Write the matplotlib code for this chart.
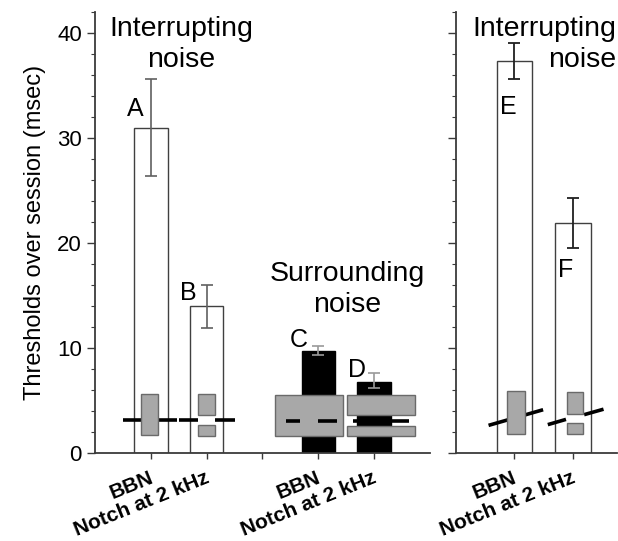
import matplotlib
matplotlib.use("Agg")
import matplotlib.pyplot as plt
from matplotlib.patches import Rectangle
from matplotlib.ticker import MultipleLocator
from matplotlib.transforms import ScaledTranslation

plt.rcParams['font.family'] = ['Liberation Sans', 'DejaVu Sans']

# datos del panel izquierdo (ruido interrumpido y ruido circundante)
etiquetas_izq = ['BBN', 'Notch at 2 kHz', '', 'BBN', 'Notch at 2 kHz']
pos_interrumpido = [0, 1]
medias_interrumpido = [31.0, 14.0]
err_inf_interrumpido = [26.4, 11.9]
err_sup_interrumpido = [35.6, 16.0]
letras_interrumpido = ['A', 'B']

pos_circundante = [3, 4]
medias_circundante = [9.7, 6.8]
err_inf_circundante = [9.3, 6.2]
err_sup_circundante = [10.2, 7.6]
letras_circundante = ['C', 'D']

# datos del panel derecho
etiquetas_der = ['BBN', 'Notch at 2 kHz']
pos_der = [0, 1]
medias_der = [37.3, 21.9]
err_inf_der = [35.6, 19.5]
err_sup_der = [39.1, 24.3]
letras_der = ['E', 'F']

# esquemas del ruido: cajas grises (x0, x1, y0, y1) y trazos del umbral
cajas_izq = [(-0.18, 0.13, 1.7, 5.6), (0.85, 1.15, 3.6, 5.65), (0.85, 1.15, 1.65, 2.65),
             (2.23, 3.44, 1.65, 5.5), (3.52, 4.74, 3.62, 5.52), (3.52, 4.74, 1.65, 2.6)]
trazos_izq = [((-0.5, 0.47), (3.1, 3.1)), ((0.5, 0.84), (3.1, 3.1)), ((1.15, 1.5), (3.1, 3.1))]
trazos_circ = [((2.42, 2.67), (3.05, 3.05)), ((3.0, 3.34), (3.05, 3.05)),
               ((3.62, 3.95), (3.05, 3.05)), ((4.28, 4.63), (3.05, 3.05))]
cajas_der = [(-0.13, 0.18, 1.84, 5.9), (0.89, 1.17, 3.74, 5.85), (0.89, 1.17, 1.84, 2.88)]
trazos_der = [((-0.44, 0.49), (2.63, 4.12)), ((0.57, 0.88), (2.7, 3.2)), ((1.19, 1.52), (3.65, 4.17))]

gris_caja = '#a8a8a8'
borde_caja = '#6a6a6a'
color_eje = '#3a3a3a'

fig = plt.figure(figsize=(6.18, 5.41), dpi=100)
ax1 = fig.add_axes([0.1537, 0.1627, 0.5421, 0.815])
ax2 = fig.add_axes([0.7374, 0.1627, 0.2610, 0.815])
desplazamiento = ScaledTranslation(-2 / 100, 0, fig.dpi_scale_trans)


def estilo_ejes(ax, xlim, etiquetas):
    ax.set_ylim(0, 42)
    ax.set_xlim(*xlim)
    for lado in ['top', 'right']:
        ax.spines[lado].set_visible(False)
    for lado in ['left', 'bottom']:
        ax.spines[lado].set_color(color_eje)
        ax.spines[lado].set_linewidth(1.3)
    ax.yaxis.set_major_locator(MultipleLocator(10))
    ax.yaxis.set_minor_locator(MultipleLocator(2))
    ax.tick_params(axis='y', which='major', length=6, width=1, color=color_eje, labelsize=16)
    ax.tick_params(axis='y', which='minor', length=3, width=0.8, color=color_eje)
    ax.tick_params(axis='x', length=4, width=1, color=color_eje, pad=7)
    ax.set_xticks(range(len(etiquetas)))
    ax.set_xticklabels(etiquetas, rotation=22, ha='right', rotation_mode='anchor',
                       fontsize=15, fontweight='bold')
    for t in ax.get_xticklabels():
        t.set_transform(t.get_transform() + desplazamiento)


def dibujar_esquema(ax, cajas, trazos, trazos_encima=()):
    for xs, ys in trazos:
        ax.plot(xs, ys, color='black', lw=2.6, solid_capstyle='butt', zorder=4)
    for x0, x1, y0, y1 in cajas:
        ax.add_patch(Rectangle((x0, y0), x1 - x0, y1 - y0, facecolor=gris_caja,
                               edgecolor=borde_caja, lw=1.0, zorder=5))
    for xs, ys in trazos_encima:
        ax.plot(xs, ys, color='black', lw=2.6, solid_capstyle='butt', zorder=6)


# panel izquierdo
estilo_ejes(ax1, (-1, 5), etiquetas_izq)
ax1.bar(pos_interrumpido, medias_interrumpido, width=0.6, color='white',
        edgecolor='#404040', lw=1.0, zorder=2)
ax1.errorbar(pos_interrumpido, medias_interrumpido,
             yerr=[[m - l for m, l in zip(medias_interrumpido, err_inf_interrumpido)],
                   [h - m for m, h in zip(medias_interrumpido, err_sup_interrumpido)]],
             fmt='none', ecolor='#606060', elinewidth=1.2, capsize=4.5, capthick=1.2, zorder=3)
ax1.bar(pos_circundante, medias_circundante, width=0.6, color='black',
        edgecolor='black', lw=1.0, zorder=2)
ax1.errorbar(pos_circundante, medias_circundante,
             yerr=[[m - l for m, l in zip(medias_circundante, err_inf_circundante)],
                   [h - m for m, h in zip(medias_circundante, err_sup_circundante)]],
             fmt='none', ecolor='#9a9a9a', elinewidth=1.2, capsize=4.5, capthick=1.2, zorder=3)
dibujar_esquema(ax1, cajas_izq, trazos_izq, trazos_circ)

ax1.text(-0.27, 32.8, letras_interrumpido[0], fontsize=18, ha='center', va='center')
ax1.text(0.68, 15.2, letras_interrumpido[1], fontsize=18, ha='center', va='center')
ax1.text(2.65, 10.8, letras_circundante[0], fontsize=18, ha='center', va='center')
ax1.text(3.69, 7.9, letras_circundante[1], fontsize=18, ha='center', va='center')
ax1.text(0.55, 38.9, 'Interrupting\nnoise', fontsize=20.5, ha='center', va='center',
         multialignment='center', linespacing=1.25)
ax1.text(3.52, 15.6, 'Surrounding\nnoise', fontsize=20.5, ha='center', va='center',
         multialignment='center', linespacing=1.25)
ax1.set_ylabel('Thresholds over session (msec)', fontsize=17, labelpad=8)

# panel derecho
estilo_ejes(ax2, (-1, 1.75), etiquetas_der)
ax2.set_yticklabels([])
ax2.bar(pos_der, medias_der, width=0.6, color='white', edgecolor='#404040', lw=1.0, zorder=2)
ax2.errorbar(pos_der, medias_der,
             yerr=[[m - l for m, l in zip(medias_der, err_inf_der)],
                   [h - m for m, h in zip(medias_der, err_sup_der)]],
             fmt='none', ecolor='#202020', elinewidth=1.3, capsize=4.5, capthick=1.3, zorder=3)
dibujar_esquema(ax2, cajas_der, trazos_der)
ax2.text(-0.11, 33.0, letras_der[0], fontsize=18, ha='center', va='center')
ax2.text(0.87, 17.4, letras_der[1], fontsize=18, ha='center', va='center')
ax2.text(1.74, 38.9, 'Interrupting\nnoise', fontsize=20.5, ha='right', va='center',
         multialignment='right', linespacing=1.25)

fig.savefig('out.png', dpi=100)
